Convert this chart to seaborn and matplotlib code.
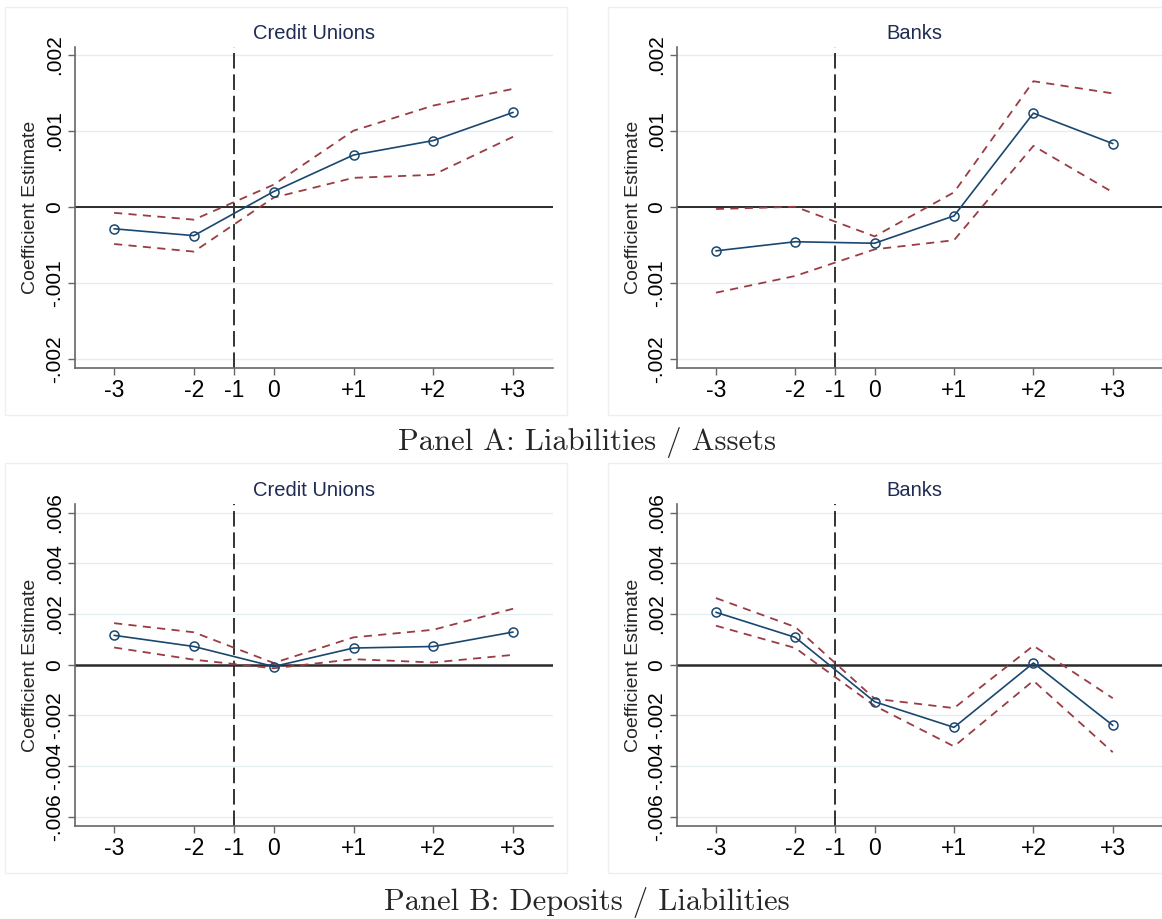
import matplotlib
matplotlib.use("Agg")
import matplotlib.pyplot as plt
from matplotlib.patches import Rectangle
import pandas as pd
import seaborn as sns

# Event-time axis: -1 is the omitted base period (marked by the dashed line)
tick_labels = ["-3", "-2", "-1", "0", "+1", "+2", "+3"]
tick_pos = [0, 1, 1.5, 2, 3, 4, 5]
est_periods = ["-3", "-2", "0", "+1", "+2", "+3"]

# Panel A: Liabilities / Assets
cu_la_coef = [-0.00029, -0.00038, 0.00020, 0.00068, 0.00087, 0.00124]
cu_la_lo = [-0.00049, -0.00059, 0.00012, 0.00038, 0.00042, 0.00092]
cu_la_hi = [-0.00008, -0.00017, 0.00029, 0.00100, 0.00133, 0.00155]
bk_la_coef = [-0.00058, -0.00046, -0.00048, -0.00012, 0.00123, 0.00083]
bk_la_lo = [-0.00113, -0.00091, -0.00056, -0.00044, 0.00080, 0.00019]
bk_la_hi = [-0.00003, 0.00000, -0.00039, 0.00019, 0.00165, 0.00149]

# Panel B: Deposits / Liabilities
cu_dl_coef = [0.00116, 0.00072, -0.00007, 0.00066, 0.00072, 0.00129]
cu_dl_lo = [0.00068, 0.00020, -0.00014, 0.00022, 0.00009, 0.00039]
cu_dl_hi = [0.00164, 0.00128, 0.00007, 0.00108, 0.00138, 0.00221]
bk_dl_coef = [0.00207, 0.00108, -0.00146, -0.00247, 0.00007, -0.00239]
bk_dl_lo = [0.00154, 0.00066, -0.00162, -0.00322, -0.00063, -0.00345]
bk_dl_hi = [0.00263, 0.00149, -0.00134, -0.00171, 0.00075, -0.00132]

yticks_a = [-0.002, -0.001, 0.0, 0.001, 0.002]
ylabels_a = ["-.002", "-.001", "0", ".001", ".002"]
yticks_b = [-0.006, -0.004, -0.002, 0.0, 0.002, 0.004, 0.006]
ylabels_b = ["-.006", "-.004", "-.002", "0", ".002", ".004", ".006"]

panel_titles = ["Credit Unions", "Banks"]
captions = ["Panel A: Liabilities / Assets", "Panel B: Deposits / Liabilities"]

NAVY = "#1a476f"
MAROON = "#9a3c44"

sns.set_theme(style="white")
plt.rcParams["font.family"] = ["Liberation Sans", "DejaVu Sans"]

pos_of = dict(zip(tick_labels, tick_pos))

def frame(coef, lo, hi):
    return pd.DataFrame({
        "x": [pos_of[p] for p in est_periods],
        "coef": coef, "lo": lo, "hi": hi,
    })

panels = [
    [frame(cu_la_coef, cu_la_lo, cu_la_hi), frame(bk_la_coef, bk_la_lo, bk_la_hi)],
    [frame(cu_dl_coef, cu_dl_lo, cu_dl_hi), frame(bk_dl_coef, bk_dl_lo, bk_dl_hi)],
]

W, H = 1162, 919
fig = plt.figure(figsize=(W / 100, H / 100), dpi=100)
fig.patch.set_facecolor("white")

def px_axes(x0, x1, ytop, ybot):
    return fig.add_axes([x0 / W, 1 - ybot / H, (x1 - x0) / W, (ybot - ytop) / H])

# pixel layout of each column / row of the grid
col_x = [(75, 553, (-0.49, 5.5)), (677, 1162, (-0.49, 5.62))]
row_y = [(47, 368, (-0.00212, 0.0021), yticks_a, ylabels_a, 33),
         (504, 826, (-0.00636, 0.00634), yticks_b, ylabels_b, 491)]
boxes_x = [(5, 567), (608, 1200)]
boxes_y = [(7, 415), (463, 873)]
caption_y = [443, 902]
title_x = [314, 914]

for r, (yt, yb, ylim, yticks, ylabels, title_y) in enumerate(row_y):
    for c, (x0, x1, xlim) in enumerate(col_x):
        bx0, bx1 = boxes_x[c]
        by0, by1 = boxes_y[r]
        fig.patches.append(Rectangle((bx0 / W, 1 - by1 / H), (bx1 - bx0) / W, (by1 - by0) / H,
                                     transform=fig.transFigure, fill=False,
                                     edgecolor="#efefef", lw=1.0, zorder=0))
        ax = px_axes(x0, x1, yt, yb)
        ax.set_facecolor("none")
        df = panels[r][c]

        ax.set_xlim(*xlim)
        ax.set_ylim(*ylim)
        ax.set_yticks(yticks)
        ax.set_yticklabels(ylabels, rotation=90, va="center", fontsize=15)
        ax.set_xticks(tick_pos)
        ax.set_xticklabels(tick_labels, fontsize=16.5)
        ax.yaxis.grid(True, color="#e4eef0", lw=1.0)
        ax.xaxis.grid(False)
        ax.tick_params(axis="both", direction="out", length=5, width=1,
                       color="#666666", labelcolor="black")
        ax.tick_params(axis="y", pad=3, left=True)
        ax.tick_params(axis="x", pad=3, bottom=True)
        for s in ["top", "right"]:
            ax.spines[s].set_visible(False)
        for s in ["left", "bottom"]:
            ax.spines[s].set_color("#666666")
            ax.spines[s].set_linewidth(1.2)

        ax.axhline(0, color="#2b2b2b", lw=1.4 if r == 0 else 1.8, zorder=1)
        ax.axvline(pos_of["-1"], color="#333333", lw=1.4,
                   linestyle=(0, (8, 3)), zorder=1)

        for col in ["hi", "lo"]:
            sns.lineplot(data=df, x="x", y=col, ax=ax, color=MAROON, lw=1.3,
                         linestyle=(0, (4.5, 3.5)), errorbar=None, sort=False,
                         zorder=2)
        sns.lineplot(data=df, x="x", y="coef", ax=ax, color=NAVY, lw=1.2,
                     marker="o", markersize=6.5, markerfacecolor="none",
                     markeredgecolor=NAVY, markeredgewidth=1.1,
                     errorbar=None, sort=False, zorder=3)

        ax.set_xlabel("")
        ax.set_ylabel("")
        ax.text(-44 / (x1 - x0), 0.5, "Coefficient Estimate",
                rotation=90, ha="center", va="center",
                fontsize=14, transform=ax.transAxes)
        ax.text((title_x[c] - x0) / (x1 - x0), 1 + (yt - title_y) / (yb - yt),
                panel_titles[c], ha="center", va="center", fontsize=14.5,
                color="#1e2b52", transform=ax.transAxes)

    fig.text(587 / W, 1 - caption_y[r] / H, captions[r], ha="center", va="center",
             fontsize=22, family="cmr10")

fig.savefig("out.png", dpi=100, facecolor="white")
